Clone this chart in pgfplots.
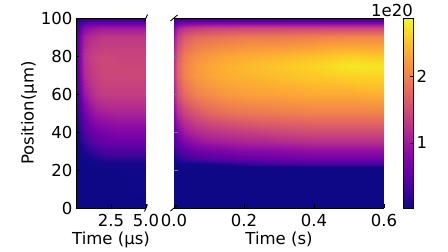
\documentclass[border=0pt]{standalone}
\usepackage{pgfplots}
\pgfplotsset{compat=1.18}
\usepackage{fontspec}
\setmainfont{DejaVu Sans}
\pgfplotsset{
  colormap={plasmacm}{
    rgb255=(13,8,135) rgb255=(65,4,157) rgb255=(106,0,168) rgb255=(143,13,164)
    rgb255=(177,42,144) rgb255=(204,71,120) rgb255=(225,100,98) rgb255=(242,132,75)
    rgb255=(252,166,54) rgb255=(252,206,37) rgb255=(240,249,33)},
  colormap name=plasmacm,
  common/.style={
    anchor=south west, scale only axis, view={0}{90},
    axis line style={draw=none}, axis on top,
    point meta min=0.015, point meta max=2.89,
    tick style={black,line width=0.7pt}, major tick length=3.5pt,
    tick label style={font=\fontsize{16.5}{17}\selectfont},
    label style={font=\fontsize{16.5}{17}\selectfont},
    /pgf/number format/assume math mode=true,
    xtick pos=bottom, ytick pos=left,
    ymin=0, ymax=100, xticklabel style={inner xsep=0pt, yshift=-3pt},
    xlabel style={yshift=2pt},
  }
}
\begin{document}
\begin{tikzpicture}[x=1pt,y=1pt]
\useasboundingbox (0,0) rectangle (448,252);
\begin{axis}[common, at={(76pt,44pt)}, width=70pt, height=190pt,
  xmin=0, xmax=5, xtick={2.5,5}, xticklabels={2.5,5.0},
  ytick={0,20,...,100}, ylabel={Position(µm)}, xlabel={Time (µs)},
  ylabel style={yshift=-3pt}, ]
\addplot3[surf, shader=interp] table {
0 0 .02
.25 0 .02
.6 0 .02
1 0 .02
1.5 0 .02
2 0 .02
3 0 .02
4 0 .02
5 0 .02

0 20 .02
.25 20 .02
.6 20 .02
1 20 .02
1.5 20 .02
2 20 .02
3 20 .02
4 20 .03
5 20 .03

0 24 .02
.25 24 .02
.6 24 .02
1 24 .03
1.5 24 .05
2 24 .07
3 24 .08
4 24 .08
5 24 .08

0 27 .02
.25 27 .02
.6 27 .03
1 27 .08
1.5 27 .15
2 27 .2
3 27 .25
4 27 .25
5 27 .25

0 30 .02
.25 30 .03
.6 30 .08
1 30 .2
1.5 30 .3
2 30 .35
3 30 .4
4 30 .4
5 30 .4

0 35 .02
.25 35 .08
.6 35 .25
1 35 .4
1.5 35 .5
2 35 .55
3 35 .6
4 35 .6
5 35 .6

0 40 .03
.25 40 .15
.6 40 .4
1 40 .55
1.5 40 .65
2 40 .7
3 40 .75
4 40 .75
5 40 .75

0 50 .1
.25 50 .3
.6 50 .65
1 50 .85
1.5 50 1.0
2 50 1.05
3 50 1.1
4 50 1.1
5 50 1.1

0 60 .2
.25 60 .5
.6 60 .95
1 60 1.15
1.5 60 1.3
2 60 1.35
3 60 1.35
4 60 1.35
5 60 1.35

0 70 .25
.25 70 .65
.6 70 1.15
1 70 1.3
1.5 70 1.4
2 70 1.45
3 70 1.45
4 70 1.45
5 70 1.45

0 80 .28
.25 80 .7
.6 80 1.2
1 80 1.35
1.5 80 1.42
2 80 1.45
3 80 1.42
4 80 1.42
5 80 1.42

0 90 .25
.25 90 .62
.6 90 1.05
1 90 1.18
1.5 90 1.25
2 90 1.3
3 90 1.3
4 90 1.3
5 90 1.3

0 95 .15
.25 95 .48
.6 95 .8
1 95 .92
1.5 95 .98
2 95 1.0
3 95 1.0
4 95 1.0
5 95 1.0

0 98 .08
.25 98 .25
.6 98 .42
1 98 .48
1.5 98 .5
2 98 .5
3 98 .5
4 98 .5
5 98 .5

0 100 .02
.25 100 .05
.6 100 .05
1 100 .05
1.5 100 .05
2 100 .05
3 100 .05
4 100 .05
5 100 .05
};
\end{axis}
\begin{axis}[common, at={(174pt,44pt)}, width=210pt, height=190pt,
  xmin=0, xmax=0.6, xtick={0,0.2,0.4,0.6},
  xticklabel style={/pgf/number format/.cd,fixed,fixed zerofill,precision=1},
  ytick={0,20,...,100}, yticklabels={}, xlabel={Time (s)},
  y tick style={black!55,line width=0.7pt}]
\addplot3[surf, shader=interp] table {
0 0 .02
.01 0 .02
.03 0 .02
.06 0 .02
.1 0 .02
.15 0 .02
.2 0 .02
.3 0 .02
.4 0 .02
.5 0 .02
.6 0 .02

0 21.5 .02
.01 21.5 .02
.03 21.5 .02
.06 21.5 .02
.1 21.5 .02
.15 21.5 .02
.2 21.5 .02
.3 21.5 .02
.4 21.5 .02
.5 21.5 .02
.6 21.5 .02

0 23 .02
.01 23 .02
.03 23 .02
.06 23 .03
.1 23 .06
.15 23 .12
.2 23 .2
.3 23 .3
.4 23 .35
.5 23 .35
.6 23 .35

0 26 .08
.01 26 .15
.03 26 .25
.06 26 .35
.1 26 .42
.15 26 .48
.2 26 .52
.3 26 .58
.4 26 .62
.5 26 .62
.6 26 .62

0 30 .2
.01 30 .35
.03 30 .5
.06 30 .6
.1 30 .68
.15 30 .72
.2 30 .78
.3 30 .82
.4 30 .88
.5 30 .88
.6 30 .88

0 35 .4
.01 35 .55
.03 35 .75
.06 35 .9
.1 35 1.0
.15 35 1.05
.2 35 1.1
.3 35 1.15
.4 35 1.2
.5 35 1.2
.6 35 1.2

0 40 .55
.01 40 .75
.03 40 1.0
.06 40 1.15
.1 40 1.25
.15 40 1.3
.2 40 1.35
.3 40 1.45
.4 40 1.5
.5 40 1.5
.6 40 1.5

0 50 .85
.01 50 1.15
.03 50 1.4
.06 50 1.6
.1 50 1.75
.15 50 1.85
.2 50 1.9
.3 50 1.95
.4 50 2.0
.5 50 2.0
.6 50 2.0

0 60 1.1
.01 60 1.5
.03 60 1.8
.06 60 2.0
.1 60 2.1
.15 60 2.2
.2 60 2.25
.3 60 2.3
.4 60 2.35
.5 60 2.35
.6 60 2.4

0 70 1.25
.01 70 1.7
.03 70 2.0
.06 70 2.2
.1 70 2.3
.15 70 2.38
.2 70 2.42
.3 70 2.5
.4 70 2.58
.5 70 2.65
.6 70 2.65

0 75 1.25
.01 75 1.7
.03 75 2.0
.06 75 2.2
.1 75 2.3
.15 75 2.4
.2 75 2.45
.3 75 2.55
.4 75 2.65
.5 75 2.78
.6 75 2.75

0 80 1.2
.01 80 1.65
.03 80 1.95
.06 80 2.12
.1 80 2.22
.15 80 2.3
.2 80 2.35
.3 80 2.42
.4 80 2.5
.5 80 2.6
.6 80 2.55

0 90 .95
.01 90 1.35
.03 90 1.65
.06 90 1.8
.1 90 1.85
.15 90 1.9
.2 90 1.95
.3 90 1.95
.4 90 2.0
.5 90 2.05
.6 90 2.05

0 95 .75
.01 95 1.05
.03 95 1.25
.06 95 1.35
.1 95 1.4
.15 95 1.42
.2 95 1.45
.3 95 1.45
.4 95 1.45
.5 95 1.45
.6 95 1.45

0 98 .4
.01 98 .5
.03 98 .6
.06 98 .65
.1 98 .65
.15 98 .65
.2 98 .65
.3 98 .65
.4 98 .65
.5 98 .65
.6 98 .65

0 100 .1
.01 100 .1
.03 100 .1
.06 100 .1
.1 100 .1
.15 100 .1
.2 100 .1
.3 100 .1
.4 100 .1
.5 100 .1
.6 100 .1
};
\end{axis}
\begin{axis}[common, at={(403pt,44pt)}, width=10pt, height=190pt,
  xmin=0, xmax=1, xtick=\empty, ymin=0.015, ymax=2.89, ytick={1,2},
  ytick pos=right, yticklabel pos=right, yticklabel style={xshift=0pt}]
\addplot3[surf, shader=interp] table {
0 0.015 0.015
1 0.015 0.015

0 2.89 2.89
1 2.89 2.89
};
\end{axis}
% spines
\begin{scope}[line width=0.8pt, black]
\draw (76,44) -- (146,44);
\draw (76,44) -- (76,234);
\draw (76,234) -- (146,234);
\draw (174,44) -- (384,44);
\draw (174,234) -- (384,234);
\draw (403,44) rectangle (413,234);
\draw[line width=0.9pt] (144.5,230.5) -- (147.5,237.5);
\draw[line width=0.9pt] (144.5,40.5) -- (147.5,47.5);
\draw[line width=0.9pt] (170.5,231) -- (177.5,237);
\draw[line width=0.9pt] (170.5,41) -- (177.5,47);
\end{scope}
\node[anchor=base east, inner sep=0pt, font=\fontsize{16.5}{17}\selectfont] at (413,235) {1e20};
\end{tikzpicture}
\end{document}
